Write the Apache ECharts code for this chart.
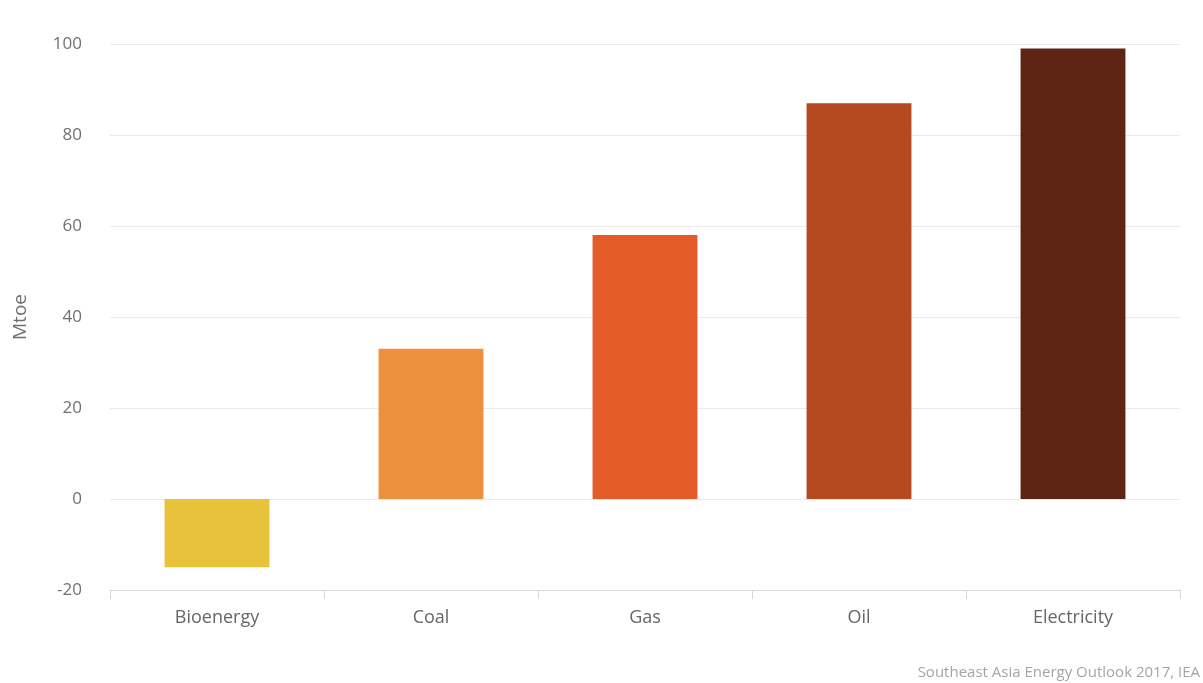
<!DOCTYPE html>
<html>
<head>
<meta charset="utf-8">
<script src="https://cdn.jsdelivr.net/npm/echarts@6/dist/echarts.min.js"></script>
<style>
  html, body { margin: 0; padding: 0; background: #ffffff; }
  #chart { width: 1203px; height: 683px; }
</style>
</head>
<body>
<div id="chart"></div>
<script>
// Change in final energy demand by fuel, Southeast Asia
const categories = ['Bioenergy', 'Coal', 'Gas', 'Oil', 'Electricity'];
const values = [-15, 33, 58, 87, 99];
const barColors = ['#E8C23A', '#EE913F', '#E35B26', '#B54A20', '#5E2414'];
const yTicks = { min: -20, max: 100, interval: 20 };

const chart = echarts.init(document.getElementById('chart'));
chart.setOption({
  backgroundColor: '#ffffff',
  textStyle: { fontFamily: 'Open Sans' },
  grid: { left: 110, right: 23, top: 44, bottom: 93 },
  xAxis: {
    type: 'category',
    data: categories,
    axisLine: { onZero: false, lineStyle: { color: '#d4d8de', width: 1 } },
    axisTick: { show: true, length: 9, lineStyle: { color: '#d4d8de' } },
    axisLabel: { color: '#666666', fontSize: 18, margin: 19 }
  },
  yAxis: {
    type: 'value',
    min: yTicks.min,
    max: yTicks.max,
    interval: yTicks.interval,
    name: 'Mtoe',
    nameLocation: 'middle',
    nameGap: 80,
    nameTextStyle: { color: '#707070', fontSize: 19 },
    axisLine: { show: false },
    axisTick: { show: false },
    axisLabel: { color: '#707070', fontSize: 17, margin: 28 },
    splitLine: { lineStyle: { color: '#eaeaea', width: 1 } }
  },
  series: [{
    type: 'bar',
    data: values.map((v, i) => ({ value: v, itemStyle: { color: barColors[i] } })),
    barWidth: '49%'
  }],
  graphic: [{
    type: 'text',
    right: 3,
    bottom: 3,
    style: {
      text: 'Southeast Asia Energy Outlook 2017, IEA',
      fill: '#a5a5a5',
      fontSize: 15,
      fontFamily: 'Open Sans'
    }
  }]
});
</script>
</body>
</html>
